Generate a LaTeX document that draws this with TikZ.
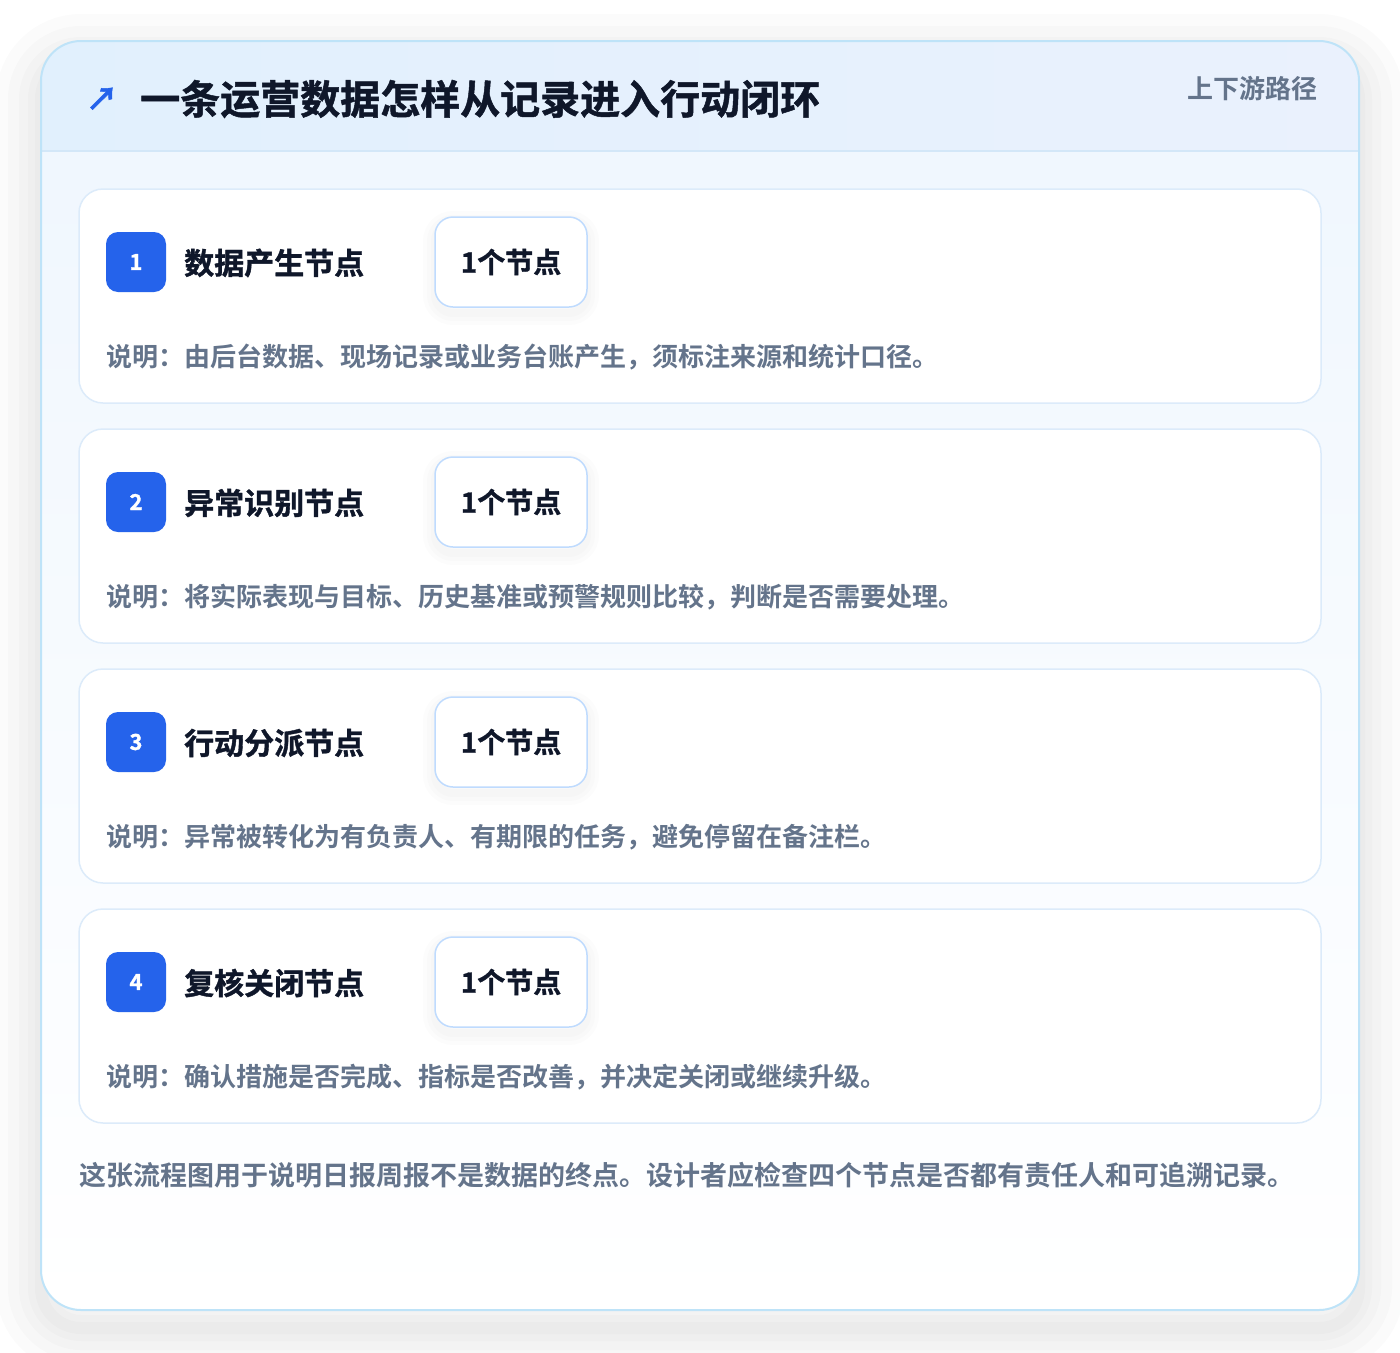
\documentclass[tikz,border=0pt]{standalone}
\usepackage{fontspec}
\setmainfont{Noto Sans CJK SC}[BoldFont={* Bold}]
\newfontfamily\heavy{Noto Sans CJK SC Bold}[FakeBold=1.2]
\usetikzlibrary{positioning}

\definecolor{ink}{HTML}{0F172A}
\definecolor{slate}{HTML}{64748B}
\definecolor{brand}{HTML}{2563EB}
\definecolor{frame}{HTML}{BEE3F8}
\definecolor{cardline}{HTML}{DCEBFA}
\definecolor{pillline}{HTML}{BFDBFE}
\definecolor{headL}{HTML}{E1F0FD}
\definecolor{headR}{HTML}{EAF1FD}
\definecolor{headline}{HTML}{D3E7F8}
\definecolor{bodytop}{HTML}{F0F7FE}

\begin{document}
\begin{tikzpicture}[x=1pt,y=-1pt]

\tikzset{
  haze/.style     = {preaction={draw=black, draw opacity=#1, line width=24pt,
                                transform canvas={yshift=-6pt}},
                     preaction={draw=black, draw opacity=#1, line width=16pt,
                                transform canvas={yshift=-6pt}},
                     preaction={draw=black, draw opacity=#1, line width=8pt,
                                transform canvas={yshift=-6pt}}},
  StepCard/.style = {draw=cardline, line width=1.5pt, fill=white, rounded corners=24pt,
                     minimum width=1242pt, minimum height=214pt, inner sep=0pt},
  Badge/.style    = {fill=brand, rounded corners=12pt, minimum size=60pt, inner sep=0pt,
                     text=white, font=\fontsize{22}{22}\selectfont\heavy},
  StepName/.style = {anchor=west, inner sep=0pt, text=ink,
                     font=\fontsize{30}{30}\selectfont\heavy},
  Pill/.style     = {haze=.012, draw=pillline, line width=1.5pt, fill=white,
                     rounded corners=18pt, minimum width=152pt, minimum height=90pt,
                     inner sep=0pt, text=ink, font=\fontsize{28}{28}\selectfont\heavy},
  Note/.style     = {anchor=west, inner sep=0pt, text=slate,
                     font=\fontsize{26}{26}\selectfont\bfseries}
}

\useasboundingbox (0,0) rectangle (1400,1352);
\fill[white] (0,0) rectangle (1400,1352);

% outer panel
\fill[white, rounded corners=40pt,
      preaction={draw=black, draw opacity=.016, line width=90pt, transform canvas={yshift=-18pt}},
      preaction={draw=black, draw opacity=.016, line width=66pt, transform canvas={yshift=-18pt}},
      preaction={draw=black, draw opacity=.016, line width=44pt, transform canvas={yshift=-18pt}},
      preaction={draw=black, draw opacity=.016, line width=26pt, transform canvas={yshift=-18pt}},
      preaction={draw=black, draw opacity=.016, line width=12pt, transform canvas={yshift=-18pt}}]
  (41,41) rectangle (1359,1310);
\begin{scope}
  \clip[rounded corners=40pt] (41,41) rectangle (1359,1310);
  \shade[top color=bodytop, bottom color=white] (41,151) rectangle (1359,1310);
  \shade[left color=headL, right color=headR] (41,41) rectangle (1359,151);
  \draw[headline, line width=1.5pt] (41,151) -- (1359,151);
\end{scope}
\draw[frame, line width=2pt, rounded corners=40pt] (41,41) rectangle (1359,1310);

% header
\node[anchor=center, text=brand, font=\fontsize{32}{32}\selectfont\heavy] (arrow) at (102,99) {↗};
\node[anchor=west, inner sep=0pt, text=ink, font=\fontsize{40}{40}\selectfont\heavy]
  (title) at (140,99) {一条运营数据怎样从记录进入行动闭环};
\node[anchor=east, inner sep=0pt, text=slate, font=\fontsize{26}{26}\selectfont\bfseries]
  (path) at (1318,89) {上下游路径};

% step 1
\node[StepCard] (card1) at (700,296) {};
\node[Badge] (badge1) at (136,262) {1};
\node[StepName] (name1) at (184,263) {数据产生节点};
\node[Pill] (pill1) at (511,262) {1个节点};
\node[Note] (note1) at (106,357) {说明：由后台数据、现场记录或业务台账产生，须标注来源和统计口径。};

% step 2
\node[StepCard] (card2) at (700,536) {};
\node[Badge] (badge2) at (136,502) {2};
\node[StepName] (name2) at (184,503) {异常识别节点};
\node[Pill] (pill2) at (511,502) {1个节点};
\node[Note] (note2) at (106,597) {说明：将实际表现与目标、历史基准或预警规则比较，判断是否需要处理。};

% step 3
\node[StepCard] (card3) at (700,776) {};
\node[Badge] (badge3) at (136,742) {3};
\node[StepName] (name3) at (184,743) {行动分派节点};
\node[Pill] (pill3) at (511,742) {1个节点};
\node[Note] (note3) at (106,837) {说明：异常被转化为有负责人、有期限的任务，避免停留在备注栏。};

% step 4
\node[StepCard] (card4) at (700,1016) {};
\node[Badge] (badge4) at (136,982) {4};
\node[StepName] (name4) at (184,983) {复核关闭节点};
\node[Pill] (pill4) at (511,982) {1个节点};
\node[Note] (note4) at (106,1077) {说明：确认措施是否完成、指标是否改善，并决定关闭或继续升级。};

% footer
\node[anchor=west, inner sep=0pt, text=slate, font=\fontsize{27}{27}\selectfont\bfseries]
  (summary) at (79,1175) {这张流程图用于说明日报周报不是数据的终点。设计者应检查四个节点是否都有责任人和可追溯记录。};

\end{tikzpicture}
\end{document}
